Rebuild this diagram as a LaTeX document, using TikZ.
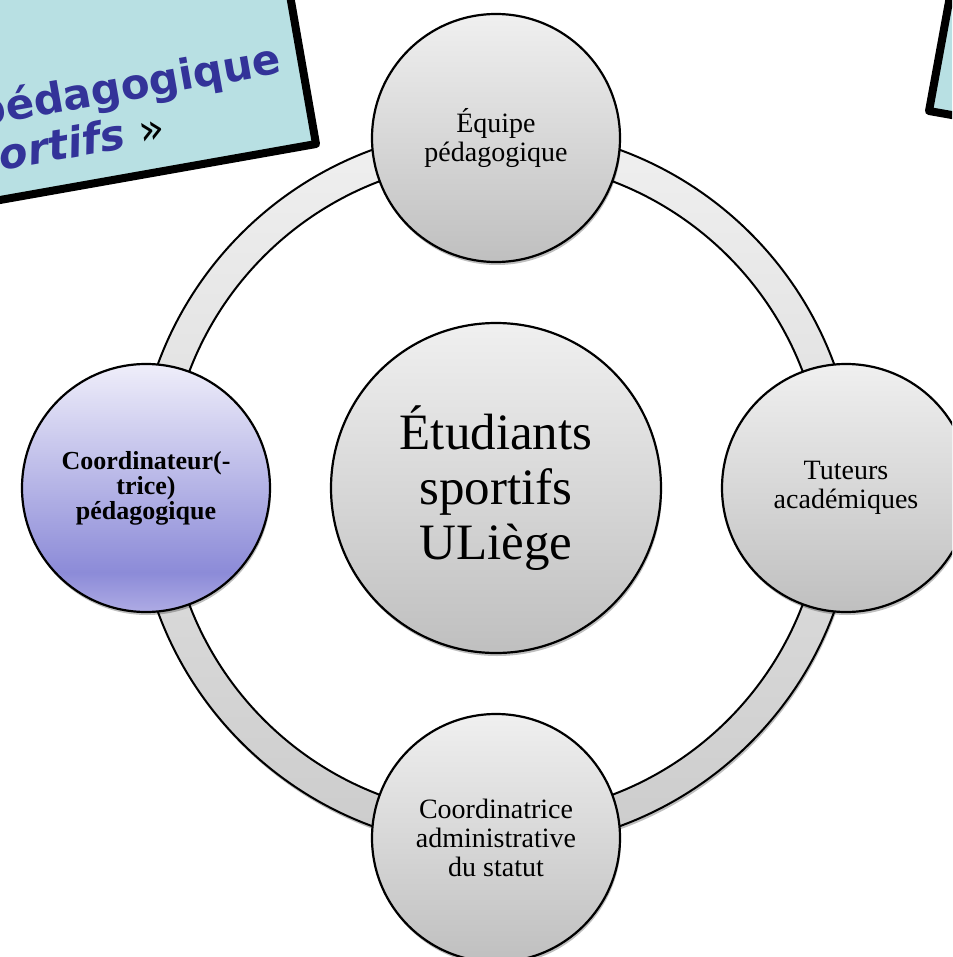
\documentclass[tikz,border=0pt]{standalone}
\usepackage{fontspec}
\setmainfont{Liberation Serif}
\newfontfamily\bannerfont{DejaVu Sans}
\usetikzlibrary{shadows}

\definecolor{bannerfill}{HTML}{B8E0E3}
\definecolor{bannertext}{HTML}{333399}
\definecolor{lavlow}{HTML}{AEABE4}
\definecolor{lavmid}{HTML}{8C8BD8}
\definecolor{lavtop}{HTML}{EFEEFA}
\pgfdeclareverticalshading{coordshade}{100bp}{color(0bp)=(lavlow); color(25bp)=(lavlow); color(33bp)=(lavmid); color(75bp)=(lavtop); color(100bp)=(lavtop)}

\tikzset{
  softshadow/.style={drop shadow={shadow xshift=1pt, shadow yshift=-3pt, opacity=.25, fill=black}},
  sat/.style={circle, draw, line width=2.2pt, minimum size=248pt, inner sep=0pt, align=center,
    top color=gray!12, bottom color=gray!50, softshadow, font=\fontsize{28}{29}\selectfont},
  coordsat/.style={sat, shading=coordshade, font=\fontsize{26}{25}\selectfont\bfseries},
  hub/.style={sat, minimum size=330pt, font=\fontsize{51}{55}\selectfont},
  ringband/.style={draw, line width=2pt, top color=gray!12, bottom color=gray!40, softshadow},
  ringhole/.style={draw, line width=2pt, fill=white},
  banner/.style={draw, line width=8pt, line join=round, fill=bannerfill},
  bannerline/.style={anchor=base east, rotate=10, inner sep=0pt, text=bannertext,
    font=\bannerfont\bfseries\fontsize{42}{50}\selectfont}
}

\begin{document}
\begin{tikzpicture}[x=1pt, y=-1pt]
	\clip (0, 0) rectangle (952, 957);
	\useasboundingbox (0, 0) rectangle (952, 957);
	
	% ring behind the satellites
	\path[ringband] (496, 488) circle[radius=360];
	\path[ringhole] (496, 488) circle[radius=328];
	
	\node[sat] (equipe) at (496, 138) {Équipe\\pédagogique};
	\node[sat] (tuteurs) at (846, 488) {Tuteurs\\académiques};
	\node[sat] (admin) at (496, 838) {Coordinatrice\\administrative\\du statut};
	\node[coordsat] (coordped) at (146, 488) {Coordinateur(-\\trice)\\pédagogique};
	\node[hub] (etudiants) at (496, 488) {Étudiants\\sportifs\\ULiège};
	
	% banners cut by the frame
	\draw[banner] (-122, -32) -- (-79, 214) -- (316, 144) -- (273, -102) -- cycle;
	\node[bannerline] (bannerone) at (283, 73) {pédagogique};
	\node[bannerline] (bannertwo) at (167, 141) {\itshape sportifs {\upshape\mdseries\color{black}»}};
	
	\draw[banner] (974, -135) -- (929, 111) -- (1224, 163) -- (1269, -83) -- cycle;
\end{tikzpicture}
\end{document}
